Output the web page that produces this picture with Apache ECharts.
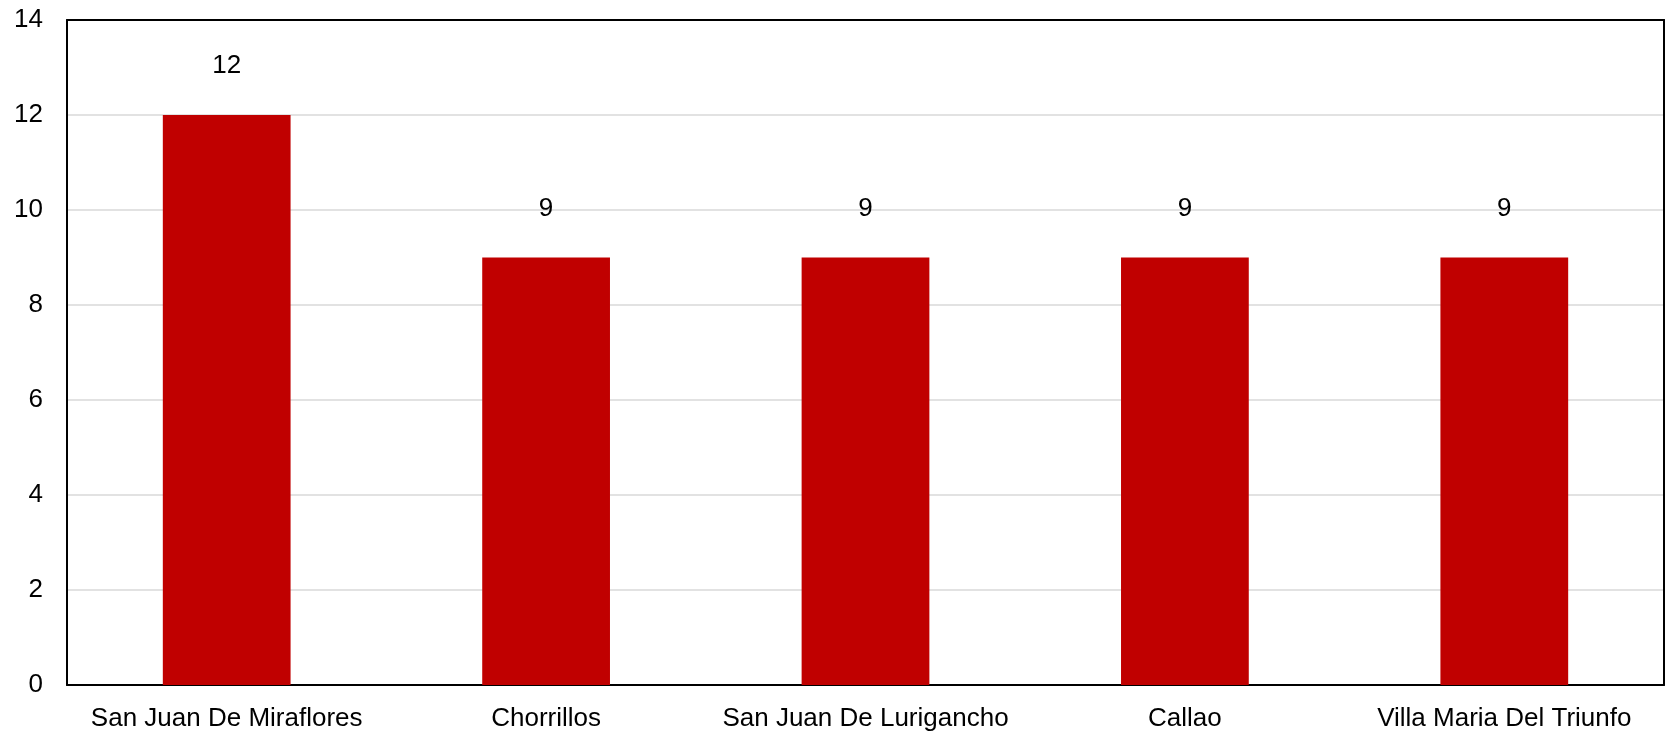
<!DOCTYPE html>
<html>
<head>
<meta charset="utf-8">
<script src="https://cdn.jsdelivr.net/npm/echarts@6/dist/echarts.min.js"></script>
<style>html,body{margin:0;padding:0;background:#fff;}#c{width:1665px;height:733px;}</style>
</head>
<body>
<div id="c"></div>
<script>
const categories = ["San Juan De Miraflores", "Chorrillos", "San Juan De Lurigancho", "Callao", "Villa Maria Del Triunfo"];
const values = [12, 9, 9, 9, 9];
const yTicks = [0, 2, 4, 6, 8, 10, 12, 14];

const FONT = 'Liberation Sans, Arial, sans-serif';
const chart = echarts.init(document.getElementById('c'), null, {renderer: 'canvas'});
chart.setOption({
  animation: false,
  backgroundColor: '#ffffff',
  grid: {left: 67, right: 1, top: 20, bottom: 48},
  xAxis: [{
    type: 'category',
    data: categories,
    axisLine: {show: true, lineStyle: {color: '#000', width: 2}},
    axisTick: {show: false},
    axisLabel: {interval: 0, color: '#000', fontSize: 26, fontFamily: FONT, margin: 21}
  }, {
    type: 'category',
    data: categories,
    position: 'top',
    z: 10,
    axisLine: {show: true, onZero: false, lineStyle: {color: '#000', width: 2}},
    axisTick: {show: false},
    axisLabel: {show: false},
    splitLine: {show: false}
  }],
  yAxis: [{
    type: 'value',
    min: yTicks[0],
    max: yTicks[yTicks.length - 1],
    interval: 2,
    axisLine: {show: true, lineStyle: {color: '#000', width: 2}},
    axisTick: {show: false},
    axisLabel: {color: '#000', fontSize: 26, fontFamily: FONT, margin: 24},
    splitLine: {show: true, lineStyle: {color: '#d9d9d9', width: 1.5}}
  }, {
    type: 'value',
    position: 'right',
    min: yTicks[0],
    max: yTicks[yTicks.length - 1],
    interval: 2,
    axisLine: {show: true, onZero: false, lineStyle: {color: '#000', width: 2}},
    axisTick: {show: false},
    axisLabel: {show: false},
    splitLine: {show: false}
  }],
  series: [{
    type: 'bar',
    data: values,
    barWidth: '40%',
    itemStyle: {color: '#c00000'},
    label: {show: true, position: 'top', distance: 36, color: '#000', fontSize: 26, fontFamily: FONT}
  }]
});
</script>
</body>
</html>
